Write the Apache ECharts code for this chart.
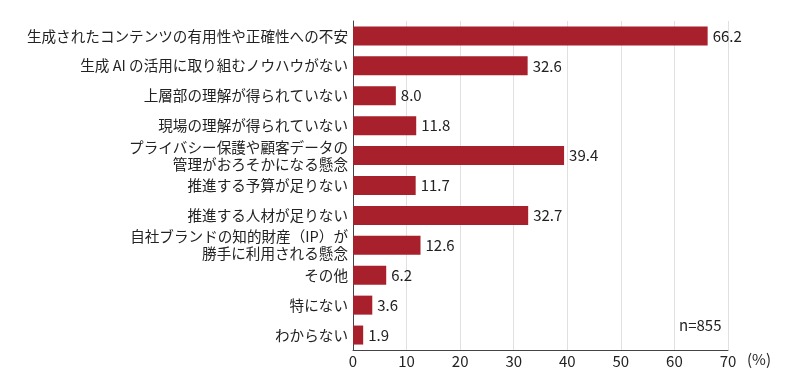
<!DOCTYPE html>
<html><head><meta charset="utf-8">
<script src="https://cdn.jsdelivr.net/npm/echarts@6/dist/echarts.min.js"></script>
<style>html,body{margin:0;padding:0;background:#fff}#c{width:800px;height:390px}</style>
</head><body><div id="c"></div>
<script>
const categories = [
  "生成されたコンテンツの有用性や正確性への不安",
  "生成 AI の活用に取り組むノウハウがない",
  "上層部の理解が得られていない",
  "現場の理解が得られていない",
  "プライバシー保護や顧客データの\n管理がおろそかになる懸念",
  "推進する予算が足りない",
  "推進する人材が足りない",
  "自社ブランドの知的財産（IP）が\n勝手に利用される懸念",
  "その他",
  "特にない",
  "わからない"
];
const values = [66.2, 32.6, 8.0, 11.8, 39.4, 11.7, 32.7, 12.6, 6.2, 3.6, 1.9];
const xTicks = [0, 10, 20, 30, 40, 50, 60, 70];
const unitLabel = "(%)";
const sampleLabel = "n=855";

const font = '"Noto Sans CJK JP", "Noto Sans", sans-serif';
const chart = echarts.init(document.getElementById('c'));
chart.setOption({
  animation: false,
  textStyle: { fontFamily: font },
  grid: { left: 353, right: 72, top: 21, bottom: 40 },
  xAxis: {
    type: 'value', min: xTicks[0], max: xTicks[xTicks.length - 1], interval: 10,
    axisLine: { show: true, lineStyle: { color: '#444', width: 1 } },
    axisTick: { show: false },
    axisLabel: { color: '#222', fontSize: 15, fontFamily: font, margin: 4 },
    splitLine: { show: true, lineStyle: { color: '#e0e0e0', width: 1 } }
  },
  yAxis: {
    type: 'category', data: categories, inverse: true,
    axisLine: { show: true, lineStyle: { color: '#444', width: 1 } },
    axisTick: { show: false },
    axisLabel: { color: '#222', fontSize: 14.6, fontFamily: font, margin: 5, lineHeight: 17, align: 'right' }
  },
  series: [{
    type: 'bar', data: values, barWidth: 19,
    itemStyle: { color: '#a8202b' },
    label: {
      show: true, position: 'right', distance: 5, color: '#222', fontSize: 15, fontFamily: font,
      formatter: p => p.value.toFixed(1)
    }
  }],
  graphic: [
    { type: 'text', left: 747, top: 352, style: { text: unitLabel, fill: '#222', font: '15px ' + font } },
    { type: 'text', left: 679, top: 318, style: { text: sampleLabel, fill: '#222', font: '15px ' + font } }
  ]
});
</script></body></html>
